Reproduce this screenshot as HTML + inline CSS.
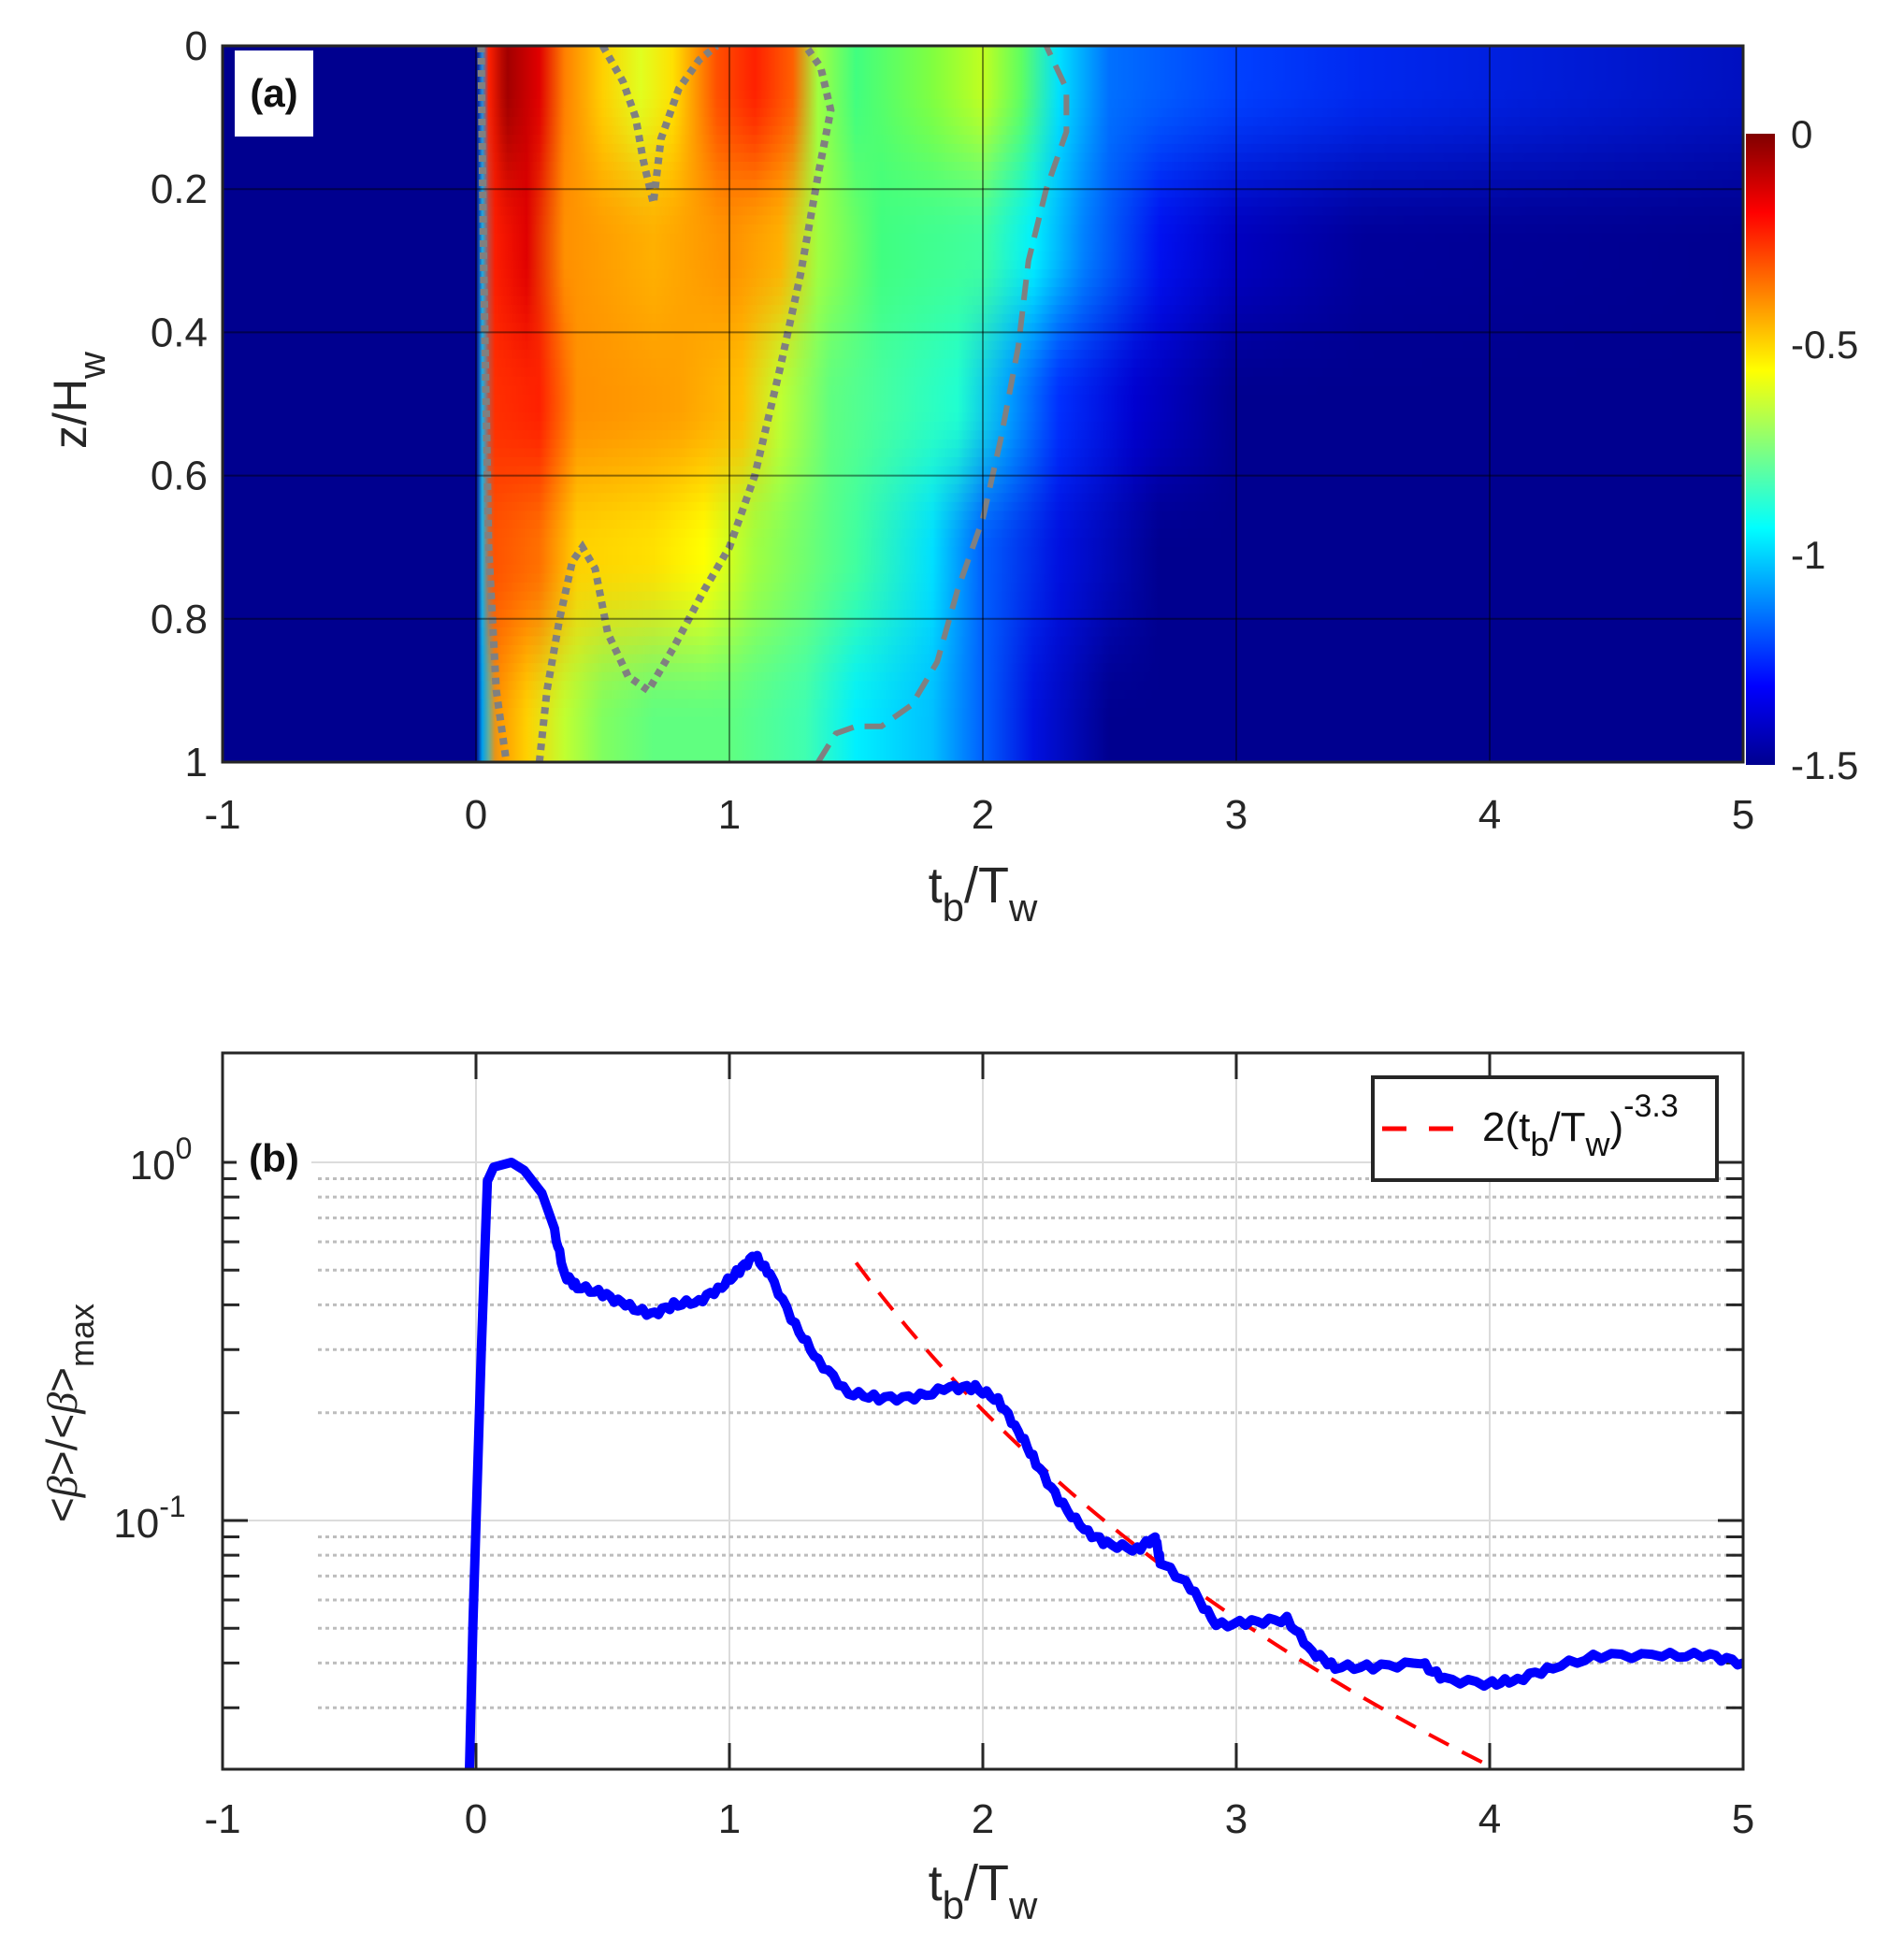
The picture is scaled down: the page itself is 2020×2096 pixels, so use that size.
<!DOCTYPE html>
<html><head><meta charset="utf-8">
<style>
html,body{margin:0;padding:0;background:#fff;}
svg{display:block;font-family:"Liberation Sans",sans-serif;}
</style></head>
<body>
<svg id="s" width="2020" height="2096" viewBox="0 0 2020 2096" xmlns="http://www.w3.org/2000/svg">
<defs>
<clipPath id="cpa"><rect x="238" y="49" width="1626" height="766"/></clipPath>
<linearGradient id="cb" x1="0" y1="1" x2="0" y2="0">
<stop offset="0" stop-color="#00008F"/><stop offset="0.125" stop-color="#0000FF"/>
<stop offset="0.375" stop-color="#00FFFF"/><stop offset="0.625" stop-color="#FFFF00"/>
<stop offset="0.875" stop-color="#FF0000"/><stop offset="1" stop-color="#800000"/>
</linearGradient>
</defs>
<g clip-path="url(#cpa)">
<rect x="238" y="49" width="1626" height="766" fill="#00008F"/>
<g id="bands"></g>
<rect x="200" y="0" width="309" height="900" fill="#00008F"/>
</g>
<g id="over"></g>
</svg>
<script>
var NS="http://www.w3.org/2000/svg",S=document.getElementById('s');
function X(t){return 238+271*(t+1);}
function Ya(z){return 49+766*z;}
function Yb(v){return 1243-383*Math.log10(v);}
function el(tag,attrs,parent,txt){var e=document.createElementNS(NS,tag);for(var k in attrs)e.setAttribute(k,attrs[k]);if(txt!==undefined)e.textContent=txt;(parent||S).appendChild(e);return e;}
var defs=S.querySelector('defs');
var bands=[
 [0.05,[[0,'#00008F'],[0.02,'#00a0ff'],[0.05,'#ff2000'],[0.12,'#a00000'],[0.25,'#e00000'],[0.35,'#ff8000'],[0.5,'#ffd000'],[0.65,'#e0ff20'],[0.78,'#ffe000'],[0.95,'#ff5000'],[1.1,'#ff2000'],[1.25,'#ff6000'],[1.35,'#a0ff40'],[1.5,'#40ff80'],[1.8,'#80ff40'],[2.0,'#c0ff20'],[2.15,'#60ff60'],[2.3,'#00e0ff'],[2.5,'#0070ff'],[3.0,'#0040ff'],[3.5,'#0028f0'],[4.0,'#0020e0'],[5,'#0010c0']]],
 [0.28,[[0,'#00008F'],[0.02,'#00c0ff'],[0.06,'#ff2000'],[0.2,'#e00000'],[0.35,'#ff9000'],[0.7,'#ffb000'],[1.0,'#ff9000'],[1.2,'#ffb000'],[1.35,'#a0ff40'],[1.6,'#40ff80'],[2.0,'#40ffa0'],[2.2,'#00f0ff'],[2.4,'#0080ff'],[2.7,'#0010f0'],[3.0,'#0000c0'],[3.5,'#00009a'],[5,'#00008F']]],
 [0.5,[[0,'#00008F'],[0.02,'#00c0ff'],[0.06,'#ff3000'],[0.25,'#ff2000'],[0.4,'#ff9000'],[0.8,'#ffa000'],[1.05,'#ffc000'],[1.2,'#c0ff30'],[1.4,'#60ff80'],[1.9,'#20ffd0'],[2.1,'#00a0ff'],[2.3,'#0030ff'],[2.6,'#0000d0'],[3.0,'#00008F'],[5,'#00008F']]],
 [0.71,[[0,'#00008F'],[0.02,'#00c0ff'],[0.06,'#ff5000'],[0.25,'#ff7000'],[0.4,'#ffd000'],[0.7,'#ffe000'],[0.9,'#ffff00'],[1.1,'#a0ff40'],[1.5,'#40ffa0'],[1.8,'#00e0ff'],[2.0,'#0060ff'],[2.3,'#0010e0'],[2.7,'#00008F'],[5,'#00008F']]],
 [0.95,[[0,'#00008F'],[0.03,'#00c0ff'],[0.08,'#ff9000'],[0.2,'#ffd000'],[0.35,'#c0ff30'],[0.5,'#80ff60'],[0.7,'#60ff80'],[1.0,'#60ff80'],[1.3,'#40ffb0'],[1.5,'#00f0ff'],[1.8,'#00c0ff'],[2.0,'#0060ff'],[2.2,'#0010e0'],[2.5,'#00008F'],[5,'#00008F']]]
];
function hx(h){return [parseInt(h.substr(1,2),16),parseInt(h.substr(3,2),16),parseInt(h.substr(5,2),16)];}
bands.forEach(function(b){b[1]=b[1].map(function(s){return [s[0],hx(s[1])];});});
function bc(stops,t){if(t<=stops[0][0])return stops[0][1];for(var i=0;i<stops.length-1;i++){var a=stops[i],b=stops[i+1];if(t<=b[0]){var f=(t-a[0])/(b[0]-a[0]);return [0,1,2].map(function(k){return a[1][k]+(b[1][k]-a[1][k])*f;});}}return stops[stops.length-1][1];}
function col(t,z){if(z<=bands[0][0])return bc(bands[0][1],t);for(var i=0;i<bands.length-1;i++){if(z<=bands[i+1][0]){var f=(z-bands[i][0])/(bands[i+1][0]-bands[i][0]);f=f*f*(3-2*f);var c1=bc(bands[i][1],t),c2=bc(bands[i+1][1],t);return [0,1,2].map(function(k){return c1[k]+(c2[k]-c1[k])*f;});}}return bc(bands[bands.length-1][1],t);}
var bg=document.getElementById('bands');
var NZ=80;
for(var j=0;j<NZ;j++){var z=(j+0.5)/NZ;
 var g=el('linearGradient',{id:'g'+j,x1:X(0),x2:X(5),y1:0,y2:0,gradientUnits:'userSpaceOnUse'},defs);
 for(var t=0;t<=5.0001;t+=0.025){var c=col(t,z);el('stop',{offset:(t/5).toFixed(4),'stop-color':'rgb('+c.map(Math.round).join(',')+')'},g);}
 el('rect',{x:X(0),y:(Ya(j/NZ)-0.5).toFixed(2),width:X(5)-X(0)+10,height:(766/NZ+1).toFixed(2),fill:'url(#g'+j+')'},bg);
}
var ov=document.getElementById('over');
function path(pts,f){return pts.map(function(p,i){return (i?'L':'M')+f(p).join(' ');}).join('');}
function pa(p){return [X(p[0]).toFixed(1),Ya(p[1]).toFixed(1)];}
var dotted={stroke:'#808080','stroke-width':8,fill:'none','stroke-dasharray':'7 6'};
var c1=[[0.02,0],[0.03,0.3],[0.05,0.7],[0.08,0.9],[0.12,1]];
var c2=[[0.25,1],[0.28,0.9],[0.33,0.8],[0.38,0.72],[0.42,0.7],[0.47,0.73],[0.52,0.82],[0.6,0.88],[0.68,0.9],[0.78,0.84],[0.9,0.76],[1.0,0.7],[1.1,0.6],[1.2,0.45],[1.28,0.32],[1.35,0.18],[1.4,0.09],[1.36,0.03],[1.3,0]];
var c3=[[0.5,0],[0.58,0.05],[0.63,0.1],[0.66,0.16],[0.7,0.22],[0.73,0.13],[0.8,0.06],[0.88,0.02],[0.95,0]];
[c1,c2,c3].forEach(function(c){var a=Object.assign({d:path(c,pa),'clip-path':'url(#cpa)'},dotted);el('path',a,ov);});
el('path',{d:path([[1.35,1],[1.42,0.96],[1.5,0.95],[1.6,0.95],[1.72,0.92],[1.82,0.86],[1.9,0.76],[2.0,0.66],[2.07,0.55],[2.14,0.42],[2.18,0.3],[2.25,0.2],[2.33,0.12],[2.33,0.06],[2.25,0]],pa),stroke:'#808080','stroke-width':6,fill:'none','stroke-dasharray':'22 12','clip-path':'url(#cpa)'},ov);
for(var t=0;t<=4;t++){el('line',{x1:X(t),x2:X(t),y1:49,y2:815,stroke:'rgba(0,0,0,0.45)','stroke-width':2},ov);}
for(var z=0.2;z<0.99;z+=0.2){el('line',{x1:238,x2:1864,y1:Ya(z),y2:Ya(z),stroke:'rgba(0,0,0,0.45)','stroke-width':2},ov);}
el('rect',{x:238,y:49,width:1626,height:766,fill:'none',stroke:'#262626','stroke-width':3},ov);
el('rect',{x:251,y:54,width:84,height:92,fill:'#fff'},ov);
el('text',{x:293,y:114,'font-size':42,'font-weight':'bold','text-anchor':'middle',fill:'#111'},ov,'(a)');
el('rect',{x:1867,y:143,width:31,height:675,fill:'url(#cb)'},ov);
[['0',143],['-0.5',368],['-1',593],['-1.5',818]].forEach(function(l){el('text',{x:1915,y:l[1]+15,'font-size':42,fill:'#262626'},ov,l[0]);});
['0','0.2','0.4','0.6','0.8','1'].forEach(function(l,i){el('text',{x:222,y:Ya(i*0.2)+15,'font-size':44,'text-anchor':'end',fill:'#262626'},ov,l);});
for(var t=-1;t<=5;t++){el('text',{x:X(t),y:886,'font-size':44,'text-anchor':'middle',fill:'#262626'},ov,String(t));}
function xlabel(y){var tx=el('text',{x:1051,y:y,'font-size':54,'text-anchor':'middle',fill:'#262626'},ov);
 el('tspan',{},tx,'t');el('tspan',{dy:20,'font-size':42},tx,'b');el('tspan',{dy:-20},tx,'/T');el('tspan',{dy:20,'font-size':42},tx,'w');}
xlabel(965);xlabel(2032);
var yl=el('text',{transform:'translate(92,428) rotate(-90)','font-size':50,'text-anchor':'middle',fill:'#262626'},ov);
el('tspan',{},yl,'z/H');el('tspan',{dy:20,'font-size':40},yl,'w');
var bt=1126,bb=1892;
for(var t=0;t<=4;t++){el('line',{x1:X(t),x2:X(t),y1:bt,y2:bb,stroke:'#dcdcdc','stroke-width':2},ov);}
[1,0.1].forEach(function(v){el('line',{x1:238,x2:1864,y1:Yb(v),y2:Yb(v),stroke:'#dcdcdc','stroke-width':2},ov);});
var minors=[2,0.9,0.8,0.7,0.6,0.5,0.4,0.3,0.2,0.09,0.08,0.07,0.06,0.05,0.04,0.03];
minors.forEach(function(v){var y=Yb(v);if(y<bt+2||y>bb-2)return;
 el('line',{x1:340,x2:1864,y1:y,y2:y,stroke:'#bdbdbd','stroke-width':3,'stroke-dasharray':'4 4'},ov);
 el('line',{x1:238,x2:256,y1:y,y2:y,stroke:'#262626','stroke-width':3},ov);
 el('line',{x1:1846,x2:1864,y1:y,y2:y,stroke:'#262626','stroke-width':3},ov);});
[1,0.1].forEach(function(v){var y=Yb(v);el('line',{x1:238,x2:265,y1:y,y2:y,stroke:'#262626','stroke-width':3},ov);el('line',{x1:1837,x2:1864,y1:y,y2:y,stroke:'#262626','stroke-width':3},ov);});
for(var t=0;t<=4;t++){el('line',{x1:X(t),x2:X(t),y1:bt,y2:bt+28,stroke:'#262626','stroke-width':3},ov);el('line',{x1:X(t),x2:X(t),y1:bb-28,y2:bb,stroke:'#262626','stroke-width':3},ov);}
var pl=[];for(var t=1.5;t<=4.0001;t+=0.05)pl.push([t,2*Math.pow(t,-3.3)]);
function pb(p){return [X(p[0]).toFixed(1),Yb(p[1]).toFixed(1)];}
el('path',{d:path(pl,pb),stroke:'#ff0000','stroke-width':4,fill:'none','stroke-dasharray':'24 16'},ov);
var bcv=[[-0.026,0.0202],[-0.012,0.051],[0.021,0.3],[0.045,0.886],[0.07,0.97],[0.14,1.0],[0.19,0.95],[0.26,0.82],[0.31,0.64],[0.35,0.485],[0.4,0.45],[0.5,0.43],[0.59,0.40],[0.69,0.375],[0.78,0.40],[0.88,0.41],[0.97,0.45],[1.04,0.50],[1.1,0.55],[1.16,0.485],[1.26,0.35],[1.35,0.28],[1.47,0.227],[1.59,0.22],[1.73,0.22],[1.87,0.235],[1.97,0.235],[2.06,0.217],[2.14,0.178],[2.21,0.145],[2.3,0.114],[2.4,0.094],[2.49,0.086],[2.61,0.083],[2.68,0.09],[2.7,0.077],[2.82,0.065],[2.92,0.051],[3.06,0.052],[3.2,0.053],[3.3,0.043],[3.39,0.039],[3.54,0.039],[3.73,0.040],[3.82,0.036],[4.01,0.035],[4.11,0.036],[4.25,0.039],[4.44,0.042],[4.68,0.042],[4.87,0.042],[5.0,0.04]];
var bp=[];for(var i=0;i<bcv.length-1;i++){var a=bcv[i],b=bcv[i+1];var n=a[0]>0.3?6:1;for(var k=0;k<n;k++){var f=k/n;var v=a[1]*Math.pow(b[1]/a[1],f);if(a[0]>0.3)v*=1+0.02*Math.sin(i*7.3+k*2.1);bp.push([a[0]+(b[0]-a[0])*f,v]);}}
bp.push(bcv[bcv.length-1]);
el('path',{d:path(bp,pb),stroke:'#0000ff','stroke-width':10,fill:'none','stroke-linejoin':'round'},ov);
el('rect',{x:238,y:bt,width:1626,height:bb-bt,fill:'none',stroke:'#262626','stroke-width':3},ov);
el('rect',{x:253,y:1210,width:80,height:60,fill:'#fff'},ov);
el('text',{x:293,y:1253,'font-size':42,'font-weight':'bold','text-anchor':'middle',fill:'#111'},ov,'(b)');
el('rect',{x:1468,y:1152,width:368,height:110,fill:'#fff',stroke:'#262626','stroke-width':4},ov);
el('line',{x1:1478,x2:1554,y1:1207,y2:1207,stroke:'#ff0000','stroke-width':5,'stroke-dasharray':'26 24'},ov);
var lt=el('text',{x:1585,y:1220,'font-size':44,fill:'#111'},ov);
el('tspan',{},lt,'2(t');el('tspan',{dy:16,'font-size':36},lt,'b');el('tspan',{dy:-16},lt,'/T');el('tspan',{dy:16,'font-size':36},lt,'w');el('tspan',{dy:-16},lt,')');el('tspan',{dy:-26,'font-size':34},lt,'-3.3');
for(var t=-1;t<=5;t++){el('text',{x:X(t),y:1960,'font-size':44,'text-anchor':'middle',fill:'#262626'},ov,String(t));}
[[1,'0'],[0.1,'-1']].forEach(function(l){var tx=el('text',{x:l[1]=='0'?172:160,y:Yb(l[0])+18,'font-size':44,'text-anchor':'middle',fill:'#262626'},ov);el('tspan',{},tx,'10');el('tspan',{dy:-22,'font-size':32},tx,l[1]);});
var yb=el('text',{transform:'translate(82,1511) rotate(-90)','font-size':46,'text-anchor':'middle',fill:'#262626'},ov);
el('tspan',{},yb,'<');el('tspan',{'font-style':'italic','font-family':'Liberation Serif, serif'},yb,'β');el('tspan',{},yb,'>/<');el('tspan',{'font-style':'italic','font-family':'Liberation Serif, serif'},yb,'β');el('tspan',{},yb,'>');el('tspan',{dy:18,'font-size':36},yb,'max');
</script>
</body></html>
